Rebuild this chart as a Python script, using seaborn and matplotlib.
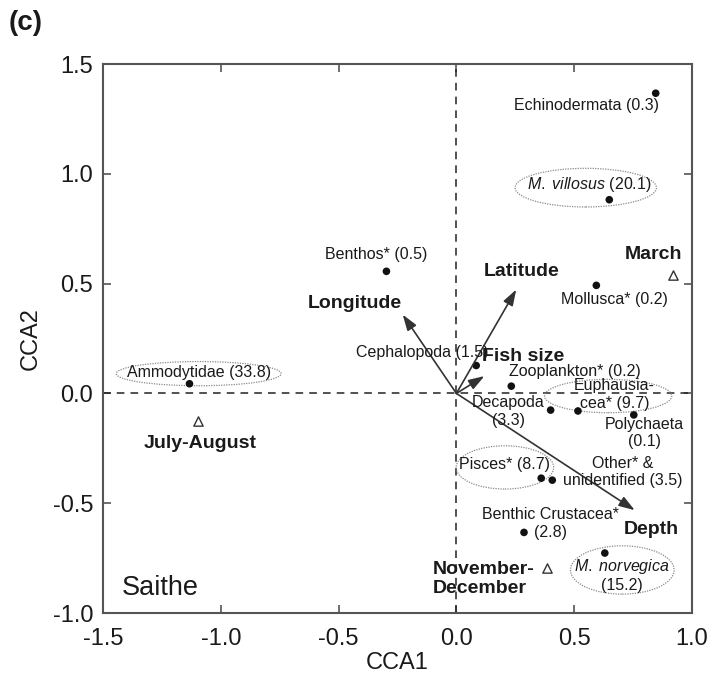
import matplotlib
matplotlib.use("Agg")
import matplotlib.pyplot as plt
from matplotlib.patches import Ellipse
import pandas as pd
import seaborn as sns

# Prey taxa (diet share, %) and their CCA scores
prey = ["Echinodermata", "M. villosus", "Benthos*", "Mollusca*", "Cephalopoda",
        "Zooplankton*", "Euphausia-\ncea*", "Decapoda", "Polychaeta", "Pisces*",
        "Other* &\nunidentified", "Benthic Crustacea*", "M. norvegica", "Ammodytidae"]
share = ["0.3", "20.1", "0.5", "0.2", "1.5", "0.2", "9.7", "3.3", "0.1", "8.7",
         "3.5", "2.8", "15.2", "33.8"]
prey_cca1 = [0.846, 0.649, -0.297, 0.594, 0.084, 0.233, 0.516, 0.400, 0.753, 0.360,
             0.407, 0.287, 0.630, -1.133]
prey_cca2 = [1.367, 0.882, 0.556, 0.492, 0.127, 0.033, -0.080, -0.076, -0.098, -0.386,
             -0.395, -0.633, -0.727, 0.044]

# Environmental variables (biplot arrows)
env_vars = ["Longitude", "Latitude", "Fish size", "Depth"]
env_cca1 = [-0.228, 0.254, 0.119, 0.757]
env_cca2 = [0.359, 0.473, 0.079, -0.532]

# Season centroids
seasons = ["March", "July-August", "November-\nDecember"]
season_cca1 = [0.921, -1.098, 0.386]
season_cca2 = [0.541, -0.126, -0.793]

x_ticks = [-1.5, -1.0, -0.5, 0.0, 0.5, 1.0]
y_ticks = [-1.0, -0.5, 0.0, 0.5, 1.0, 1.5]

# ---- layout: label offsets (points), separators, ellipses ----
prey_sep = {"Decapoda": "\n", "Polychaeta": "\n", "Benthic Crustacea*": "\n",
            "M. norvegica": "\n"}
prey_offset = {
    "Echinodermata": (-50, -8.5), "M. villosus": (-14.5, 10.8), "Benthos*": (-7.6, 12),
    "Mollusca*": (13, -10.3), "Cephalopoda": (-38.5, 9.4), "Zooplankton*": (45.6, 10.4),
    "Euphausia-\ncea*": (26.4, 12), "Decapoda": (-30.5, -1), "Polychaeta": (7.9, -13.2),
    "Pisces*": (-26.4, 10), "Other* &\nunidentified": (50.4, 5.8),
    "Benthic Crustacea*": (18.9, 6.3), "M. norvegica": (12.2, -15.8),
    "Ammodytidae": (6.7, 7.9),
}
# ellipse: centre offset from the prey point (data units), width, height
prey_ellipse = {
    "Ammodytidae": (0.039, 0.046, 0.70, 0.11),
    "M. villosus": (-0.100, 0.055, 0.60, 0.176),
    "Euphausia-\ncea*": (0.128, 0.068, 0.54, 0.152),
    "Pisces*": (-0.154, 0.049, 0.414, 0.197),
    "M. norvegica": (0.074, -0.077, 0.44, 0.22),
}
env_offset = {"Longitude": (-34.8, 7.7), "Latitude": (3.8, 13.2),
              "Fish size": (27.7, 14.4), "Depth": (12, -14.2)}
season_offset = {"March": ((-14.4, 14.4), "center"),
                 "July-August": ((2, -16.3), "center"),
                 "November-\nDecember": ((-82.6, -8.2), "left")}

sns.set_style("ticks")
plt.rcParams["font.family"] = ["Liberation Sans", "DejaVu Sans"]
plt.rcParams["mathtext.fontset"] = "custom"
plt.rcParams["mathtext.it"] = "Liberation Sans:italic"
plt.rcParams["mathtext.rm"] = "Liberation Sans"

TXT = "#1a1a1a"
fig = plt.figure(figsize=(7.09, 6.86), dpi=100)
ax = fig.add_axes([0.1453, 0.1064, 0.8307, 0.8003])

ax.axhline(0, color="#222222", lw=1.1, ls=(0, (5, 4)), zorder=1)
ax.axvline(0, color="#222222", lw=1.1, ls=(0, (5, 4)), zorder=1)

prey_df = pd.DataFrame({"prey": prey, "CCA1": prey_cca1, "CCA2": prey_cca2, "share": share})
season_df = pd.DataFrame({"season": seasons, "CCA1": season_cca1, "CCA2": season_cca2})

sns.scatterplot(data=prey_df, x="CCA1", y="CCA2", color="#111111", s=30,
                edgecolor="none", ax=ax, zorder=4, legend=False)
sns.scatterplot(data=season_df, x="CCA1", y="CCA2", marker="^", s=45,
                color="white", edgecolor="#333333", linewidth=1.0, ax=ax,
                zorder=4, legend=False)

def prey_label(name, pct):
    sep = prey_sep.get(name, " ")
    if name.startswith("M. "):
        head = r"$\mathit{" + name.replace(" ", r"\ ") + "}$"
    else:
        head = name
    return f"{head}{sep}({pct})"

for _, r in prey_df.iterrows():
    ax.annotate(prey_label(r["prey"], r["share"]), (r["CCA1"], r["CCA2"]),
                xytext=prey_offset[r["prey"]], textcoords="offset points",
                ha="center", va="center", multialignment="center",
                fontsize=11.5, color=TXT, zorder=5)
    if r["prey"] in prey_ellipse:
        dx, dy, w, h = prey_ellipse[r["prey"]]
        ax.add_patch(Ellipse((r["CCA1"] + dx, r["CCA2"] + dy), w, h, fill=False,
                             ec="#8a8a8a", lw=0.9, ls=(0, (1, 1)), zorder=3))

for name, ex, ey in zip(env_vars, env_cca1, env_cca2):
    ax.annotate("", xy=(ex, ey), xytext=(0, 0),
                arrowprops=dict(arrowstyle="-|>,head_length=0.6,head_width=0.2",
                                color="#333333", lw=1.2,
                                mutation_scale=16, shrinkA=0, shrinkB=0), zorder=4)
    ax.annotate(name, (ex, ey), xytext=env_offset[name], textcoords="offset points",
                ha="center", va="center", fontsize=14, fontweight="bold",
                color=TXT, zorder=5)

for name, sx, sy in zip(seasons, season_cca1, season_cca2):
    off, ha = season_offset[name]
    ax.annotate(name, (sx, sy), xytext=off, textcoords="offset points",
                ha=ha, va="center", multialignment="left", fontsize=14,
                fontweight="bold", color=TXT, zorder=5)

ax.text(0.032, 0.046, "Saithe", transform=ax.transAxes, fontsize=19.5,
        color=TXT, ha="left", va="center")

ax.set_xlim(-1.5, 1.0)
ax.set_ylim(-1.0, 1.5)
ax.set_xticks(x_ticks)
ax.set_yticks(y_ticks)
ax.set_xticklabels([f"{t:.1f}" for t in x_ticks])
ax.set_yticklabels([f"{t:.1f}" for t in y_ticks])
ax.tick_params(direction="in", length=6, width=1.2, color="#555555",
               labelsize=17, top=True, right=True, labelcolor=TXT)
ax.tick_params(axis="x", pad=11)
ax.tick_params(axis="y", pad=7)
for sp in ax.spines.values():
    sp.set_visible(True)
    sp.set_color("#555555")
    sp.set_linewidth(1.5)
ax.set_xlabel("CCA1", fontsize=17, color=TXT, labelpad=1)
ax.set_ylabel("CCA2", fontsize=17, color=TXT, labelpad=8)

fig.text(0.012, 0.967, "(c)", fontsize=20, fontweight="bold", color=TXT,
         ha="left", va="center")

fig.savefig("out.png", dpi=100)
